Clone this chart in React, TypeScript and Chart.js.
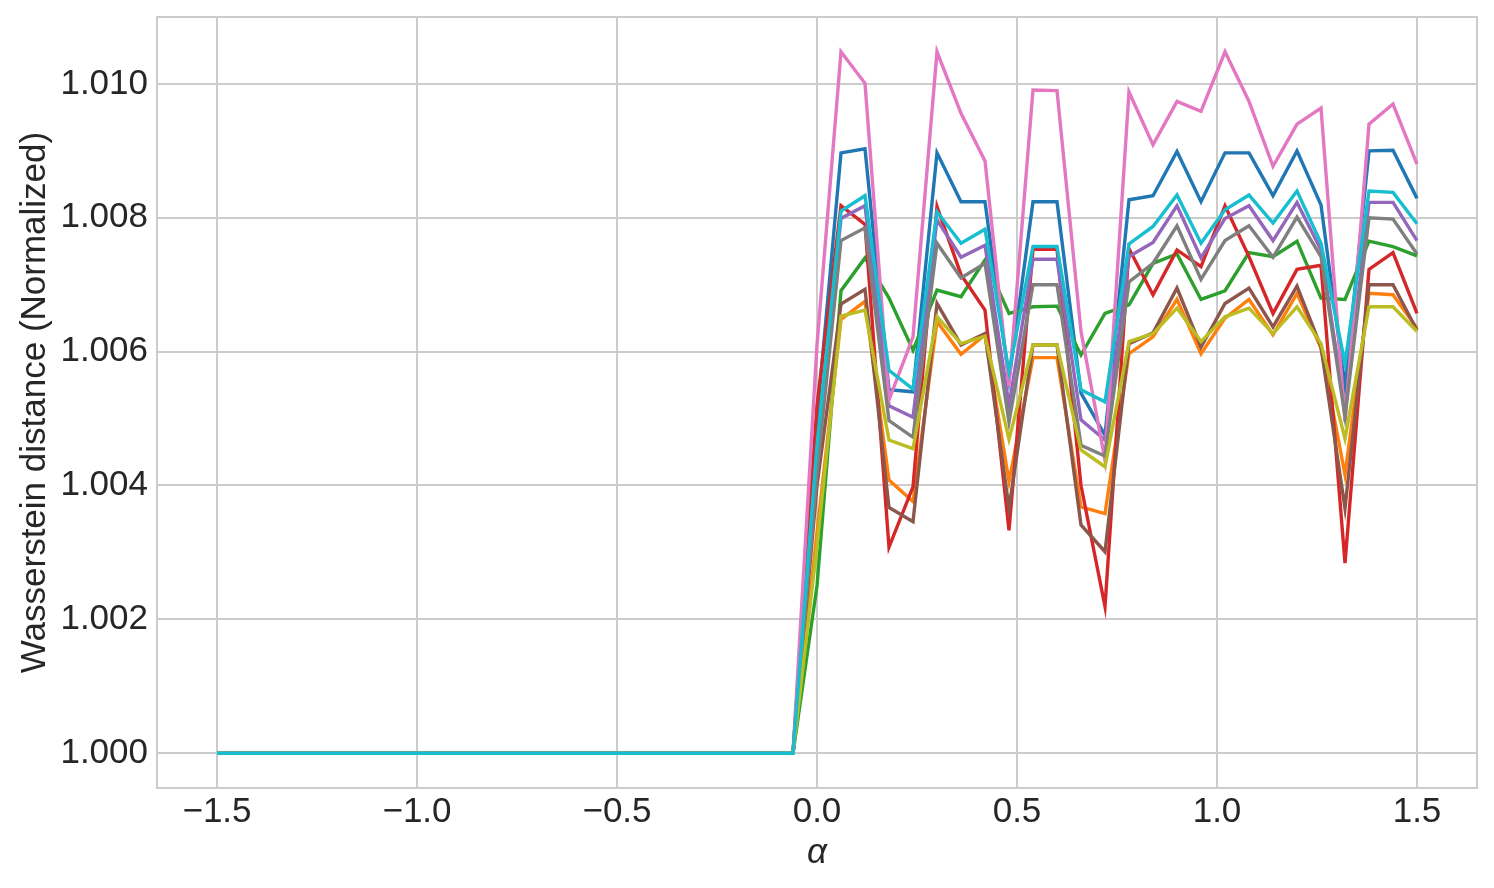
import React, { useEffect, useRef } from "react";
import { Chart, registerables } from "chart.js";

Chart.register(...registerables);

// alpha values (x)
const ALPHA = [
  -1.5, -1.44, -1.38, -1.32, -1.26, -1.2, -1.14, -1.08, -1.02, -0.96, -0.9, -0.84, -0.78,
  -0.72, -0.66, -0.6, -0.54, -0.48, -0.42, -0.36, -0.3, -0.24, -0.18, -0.12, -0.06,
  0.0, 0.06, 0.12, 0.18, 0.24, 0.3, 0.36, 0.42, 0.48, 0.54, 0.6, 0.66, 0.72, 0.78,
  0.84, 0.9, 0.96, 1.02, 1.08, 1.14, 1.2, 1.26, 1.32, 1.38, 1.44, 1.5,
];

// flat part (alpha -1.5 .. -0.06): all at 1.000
const FLAT = [
  1.0, 1.0, 1.0, 1.0, 1.0, 1.0, 1.0, 1.0, 1.0, 1.0, 1.0, 1.0, 1.0,
  1.0, 1.0, 1.0, 1.0, 1.0, 1.0, 1.0, 1.0, 1.0, 1.0, 1.0, 1.0,
];

// values for alpha 0.00 .. 1.50
const S0 = [1.0050, 1.00897, 1.00903, 1.00543, 1.0054, 1.00897, 1.00824, 1.00824, 1.00558, 1.00824, 1.00824, 1.00538, 1.00475, 1.00827, 1.00833, 1.00899, 1.00824, 1.00897, 1.00897, 1.00833, 1.009, 1.00819, 1.00548, 1.009, 1.00901, 1.00829];
const S1 = [1.0033, 1.00648, 1.00675, 1.00408, 1.00376, 1.00645, 1.00596, 1.00625, 1.00406, 1.00591, 1.00591, 1.00368, 1.00358, 1.00597, 1.00622, 1.00678, 1.00597, 1.0065, 1.00678, 1.00625, 1.00687, 1.00605, 1.00416, 1.00687, 1.00685, 1.00635];
const S2 = [1.0025, 1.00691, 1.0074, 1.0068, 1.00602, 1.00692, 1.00682, 1.00737, 1.00657, 1.00667, 1.00668, 1.00595, 1.00657, 1.0067, 1.00732, 1.00746, 1.00678, 1.00691, 1.00748, 1.00742, 1.00765, 1.0068, 1.00678, 1.00765, 1.00757, 1.00743];
const S3 = [1.0052, 1.00818, 1.0079, 1.00308, 1.00398, 1.00817, 1.00715, 1.00662, 1.00333, 1.00753, 1.00753, 1.004, 1.00219, 1.00754, 1.00685, 1.00752, 1.00727, 1.00818, 1.00742, 1.00657, 1.00723, 1.00729, 1.00284, 1.00723, 1.00748, 1.00657];
const S4 = [1.0045, 1.00799, 1.00818, 1.00519, 1.00502, 1.00797, 1.00741, 1.00759, 1.0052, 1.00738, 1.00738, 1.00498, 1.00468, 1.00742, 1.00763, 1.00818, 1.0074, 1.00799, 1.00818, 1.00766, 1.00823, 1.00752, 1.00513, 1.00823, 1.00823, 1.00766];
const S5 = [1.004, 1.00671, 1.00693, 1.00367, 1.00346, 1.00672, 1.0061, 1.00627, 1.00366, 1.0061, 1.0061, 1.00341, 1.00301, 1.00612, 1.00628, 1.00695, 1.00607, 1.00672, 1.00695, 1.00637, 1.00698, 1.00607, 1.00366, 1.007, 1.007, 1.00632];
const S6 = [1.0061, 1.01048, 1.01001, 1.00528, 1.00622, 1.01048, 1.00956, 1.00885, 1.00548, 1.00991, 1.0099, 1.0063, 1.00438, 1.00988, 1.00909, 1.00974, 1.00959, 1.01048, 1.00974, 1.00877, 1.0094, 1.00964, 1.00495, 1.0094, 1.0097, 1.0088];
const S7 = [1.0042, 1.00766, 1.00785, 1.00497, 1.00472, 1.00762, 1.0071, 1.00732, 1.00495, 1.007, 1.007, 1.0046, 1.00444, 1.00704, 1.00732, 1.00788, 1.00708, 1.00766, 1.00788, 1.00741, 1.00801, 1.00742, 1.00503, 1.008, 1.00798, 1.00746];
const S8 = [1.0031, 1.00653, 1.00662, 1.00468, 1.00455, 1.00652, 1.00612, 1.00623, 1.00469, 1.0061, 1.0061, 1.00453, 1.00428, 1.00615, 1.00627, 1.00665, 1.00615, 1.00652, 1.00665, 1.00627, 1.00667, 1.00612, 1.0047, 1.00667, 1.00667, 1.0063];
const S9 = [1.0046, 1.0081, 1.00833, 1.00572, 1.00544, 1.00809, 1.00762, 1.00783, 1.0057, 1.00757, 1.00757, 1.00543, 1.00525, 1.00761, 1.00787, 1.00834, 1.00762, 1.00812, 1.00834, 1.00792, 1.0084, 1.00762, 1.00582, 1.0084, 1.00838, 1.00791];

const SERIES = [S0, S1, S2, S3, S4, S5, S6, S7, S8, S9];
const COLORS = ["#1f77b4", "#ff7f0e", "#2ca02c", "#d62728", "#9467bd", "#8c564b", "#e377c2", "#7f7f7f", "#bcbd22", "#17becf"];

const X_TICKS = [-1.5, -1.0, -0.5, 0.0, 0.5, 1.0, 1.5];
const Y_TICKS = [1.0, 1.002, 1.004, 1.006, 1.008, 1.01];
const X_MIN = -1.65, X_MAX = 1.65;
const Y_MIN = 0.99948, Y_MAX = 1.011;

const FONT = "'Liberation Sans', Arial, Helvetica, sans-serif";
const TEXT = "#262626";
const GRID = "#cccccc";

const framePlugin = {
  id: "frame",
  beforeDatasetsDraw(chart: any) {
    const { ctx, chartArea } = chart;
    ctx.save();
    ctx.strokeStyle = GRID;
    ctx.lineWidth = 2;
    ctx.strokeRect(chartArea.left, chartArea.top, chartArea.right - chartArea.left, chartArea.bottom - chartArea.top);
    ctx.restore();
  },
};

const zeroPad = (axis: any) => {
  axis.paddingTop = 0;
  axis.paddingBottom = 0;
  axis.paddingLeft = 0;
  axis.paddingRight = 0;
};

export default function App() {
  const ref = useRef<HTMLCanvasElement | null>(null);
  useEffect(() => {
    if (!ref.current) return;
    const datasets = SERIES.map((s, i) => ({
      label: "series " + i,
      data: [...FLAT, ...s].map((v, j) => ({ x: ALPHA[j], y: v })),
      borderColor: COLORS[i],
      backgroundColor: COLORS[i],
      borderWidth: 3.4,
      pointRadius: 0,
      tension: 0,
      fill: false,
      order: SERIES.length - 1 - i,
    }));
    const chart = new Chart(ref.current, {
      type: "line",
      data: { datasets },
      plugins: [framePlugin],
      options: {
        animation: false,
        responsive: true,
        maintainAspectRatio: false,
        layout: { padding: { top: 17, right: 17, left: 0, bottom: 0 } },
        plugins: { legend: { display: false }, tooltip: { enabled: false } },
        scales: {
          x: {
            type: "linear",
            min: X_MIN,
            max: X_MAX,
            afterFit: (axis: any) => { axis.height = 100; zeroPad(axis); },
            afterBuildTicks: (axis: any) => { axis.ticks = X_TICKS.map((v) => ({ value: v })); },
            grid: { color: GRID, lineWidth: 2, drawTicks: false },
            border: { display: false },
            ticks: {
              padding: 3,
              color: TEXT,
              font: { family: FONT, size: 35 },
              maxRotation: 0,
              autoSkip: false,
              callback: (v: any) => (Number(v) < 0 ? "\u2212" + Math.abs(Number(v)).toFixed(1) : Number(v).toFixed(1)),
            },
            title: {
              display: true,
              text: "\u03b1",
              color: TEXT,
              font: { family: FONT, size: 35, style: "italic" },
              padding: { top: 0, bottom: 14 },
            },
          },
          y: {
            type: "linear",
            min: Y_MIN,
            max: Y_MAX,
            afterFit: (axis: any) => { axis.width = 157; zeroPad(axis); },
            afterBuildTicks: (axis: any) => { axis.ticks = Y_TICKS.map((v) => ({ value: v })); },
            grid: { color: GRID, lineWidth: 2, drawTicks: false },
            border: { display: false },
            ticks: {
              padding: 9,
              color: TEXT,
              font: { family: FONT, size: 35 },
              autoSkip: false,
              callback: (v: any) => Number(v).toFixed(3),
            },
            title: {
              display: true,
              text: "Wasserstein distance (Normalized)",
              color: TEXT,
              font: { family: FONT, size: 35 },
              padding: { top: 14, bottom: 0 },
            },
          },
        },
      },
    } as any);
    return () => chart.destroy();
  }, []);
  return (
    <div style={{ position: "fixed", left: 0, top: 0, width: 1494, height: 888, background: "#ffffff" }}>
      <canvas ref={ref} />
    </div>
  );
}
